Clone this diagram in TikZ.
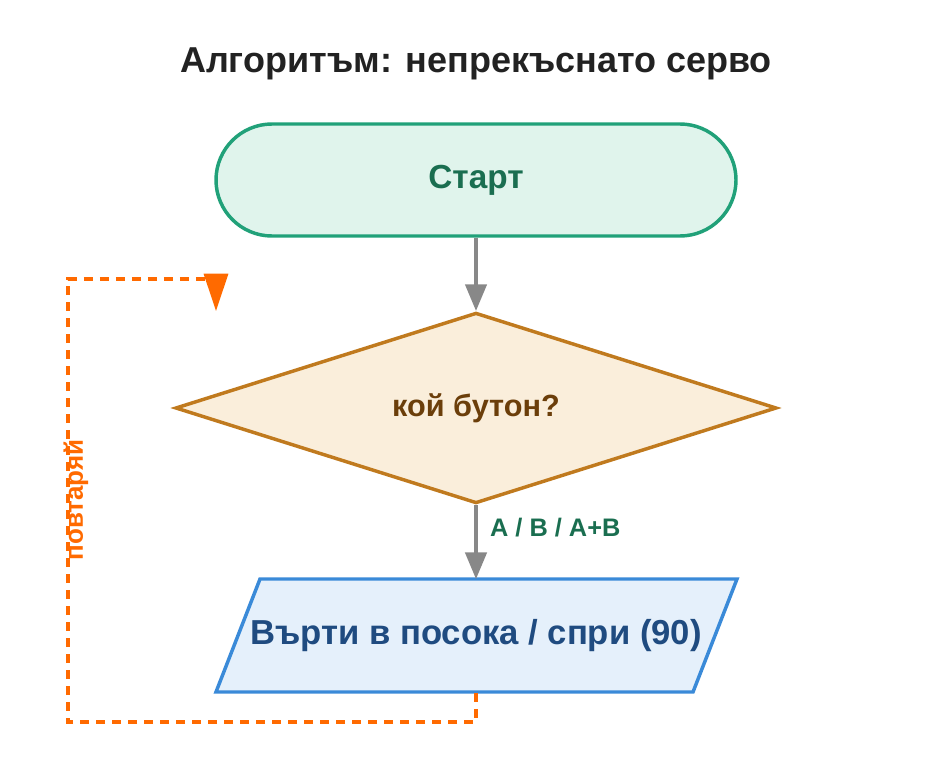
\documentclass[tikz,border=0pt]{standalone}
\usepackage{fontspec}
\setmainfont{Liberation Sans}
\usetikzlibrary{positioning,shapes.geometric,arrows.meta}
\definecolor{startfill}{HTML}{E0F4EC}
\definecolor{startline}{HTML}{21A179}
\definecolor{starttext}{HTML}{1A6E50}
\definecolor{askfill}{HTML}{FAEEDB}
\definecolor{askline}{HTML}{C07A1E}
\definecolor{asktext}{HTML}{6B3E0A}
\definecolor{iofill}{HTML}{E5F0FB}
\definecolor{ioline}{HTML}{3A8AD8}
\definecolor{iotext}{HTML}{1F4B80}
\definecolor{loopcol}{HTML}{FF6A00}
\definecolor{flowcol}{HTML}{888888}
\definecolor{titletext}{HTML}{222222}
\tikzset{
 flow/.style={draw=flowcol,line width=2.6pt,-{Triangle[length=20pt,width=16pt]}},
 loop/.style={draw=loopcol,line width=2.6pt,dash pattern=on 7pt off 5pt},
}
\begin{document}
\begin{tikzpicture}[x=0.75pt,y=-0.75pt,font=\bfseries]
 \useasboundingbox (0,0) rectangle (952,756);
 \node[text=titletext] (title) at (476,64) {\fontsize{27}{31}\selectfont Алгоритъм: непрекъснато серво};
 \node[draw=startline,fill=startfill,line width=2.6pt,rounded corners=42pt,
   minimum width=390pt,minimum height=84pt,text=starttext] (start) at (476,180)
   {\fontsize{25}{29}\selectfont Старт};
 \node[diamond,draw=askline,fill=askfill,line width=2.6pt,aspect=3.15,
   minimum width=451pt,minimum height=143pt,inner sep=0pt,text=asktext] (ask) at (476,408)
   {\fontsize{23}{27}\selectfont кой бутон?};
 % parallelogram
 \coordinate (p1) at (260,579);
 \coordinate (p2) at (737,579);
 \coordinate (p3) at (693,692);
 \coordinate (p4) at (216,692);
 \draw[draw=ioline,fill=iofill,line width=2.6pt,line join=miter] (p1) -- (p2) -- (p3) -- (p4) -- cycle;
 \node[minimum height=85pt,inner sep=0pt,text=iotext] (turn) at (476,636)
   {\fontsize{26}{30}\selectfont Върти в посока / спри (90)};
 \draw[flow] (start) -- (ask);
 \draw[flow] (ask) -- node[right=6pt,text=starttext,pos=0.3]{\fontsize{19}{22}\selectfont A / B / A+B} (turn);
 \coordinate (c1) at (476,722);
 \coordinate (c2) at (68,722);
 \coordinate (c3) at (68,279);
 \coordinate (c4) at (216,279);
 \coordinate (c5) at (216,311);
 \draw[loop] (turn.south) -- (c1) -- (c2) -- (c3) -- (c4);
 \draw[loop,solid,-{Triangle[length=28pt,width=18pt]}] (c4) -- (c5);
 \node[rotate=90,text=loopcol] (again) at (76,500) {\fontsize{19.5}{23}\selectfont повтаряй};
\end{tikzpicture}
\end{document}
